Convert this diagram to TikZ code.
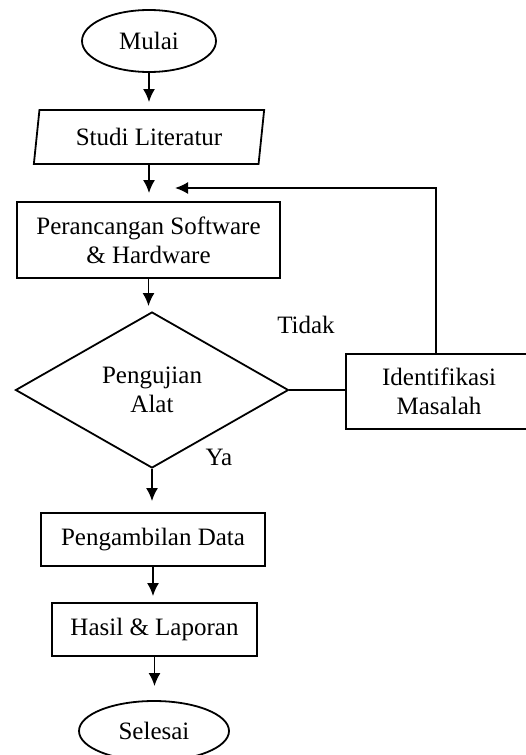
\documentclass[tikz,border=0pt]{standalone}
\usepackage{fontspec}
\setmainfont{Liberation Serif}
\usetikzlibrary{shapes.geometric,arrows.meta}

\tikzset{
  terminal/.style={draw, ellipse, inner sep=0pt},
  masukan/.style={draw, trapezium, trapezium left angle=78,
    trapezium right angle=102, trapezium stretches=true, inner sep=0pt},
  proses/.style={draw, rectangle, align=center, inner sep=0pt},
  keputusan/.style={draw, diamond, align=center, inner sep=0pt}
}

\begin{document}
\begin{tikzpicture}[x=0.5pt, y=-0.5pt, line width=0.9pt,
    >={Latex[length=6.5pt,width=6pt]},
    font=\fontsize{12.5}{14.5}\selectfont]
      \useasboundingbox (0,0) rectangle (525,755);

      % Draw the flowchart shapes
      \node[terminal, minimum width=67pt, minimum height=31pt] (mulai) at (149,41) {Mulai};
      \node[masukan, minimum width=116pt, minimum height=27pt] (studi) at (149,137) {Studi Literatur};
      \node[proses, minimum width=131.5pt, minimum height=38pt] (rancang) at (148.5,240)
        {Perancangan Software\\ \& Hardware};
      \node[keputusan, minimum width=136.5pt, minimum height=78pt] (uji) at (152,390)
        {Pengujian\\ Alat};
      \node[proses, minimum width=93pt, minimum height=37.5pt] (ident) at (439,391.5)
        {Identifikasi\\ Masalah};
      \node[proses, minimum width=112pt, minimum height=26.5pt] (ambil) at (153,539.5) {Pengambilan Data};
      \node[proses, minimum width=102.5pt, minimum height=26.5pt] (hasil) at (154.5,629.5) {Hasil \& Laporan};
      \node[terminal, minimum width=75pt, minimum height=30pt] (selesai) at (154,731) {Selesai};

      % Add the branch labels
      \node (tidak) at (306,325) {Tidak};
      \node (ya) at (219,457) {Ya};

      % Draw the downward arrows
      \draw[->, shorten >=3.5pt] (mulai.south) -- (mulai.south |- studi.north);
      \draw[->, shorten >=4pt] (studi.south) -- (studi.south |- rancang.north);
      \draw[->, shorten >=2.5pt] (rancang.south) -- (rancang.south |- uji.north);
      \draw[->, shorten >=5.5pt] (uji.south) -- (uji.south |- ambil.north);
      \draw[->, shorten >=3pt] (ambil.south) -- (ambil.south |- hasil.north);
      \draw[->, shorten >=7pt] (hasil.south) -- (hasil.south |- selesai.north);

      % Draw the loop back from Identifikasi Masalah
      \draw (uji.east) -- (uji.east -| ident.west);
      \coordinate (balik) at (175,188);
      \draw[->] ([xshift=-1.65pt]ident.north) |- (balik);
    \end{tikzpicture}
\end{document}
